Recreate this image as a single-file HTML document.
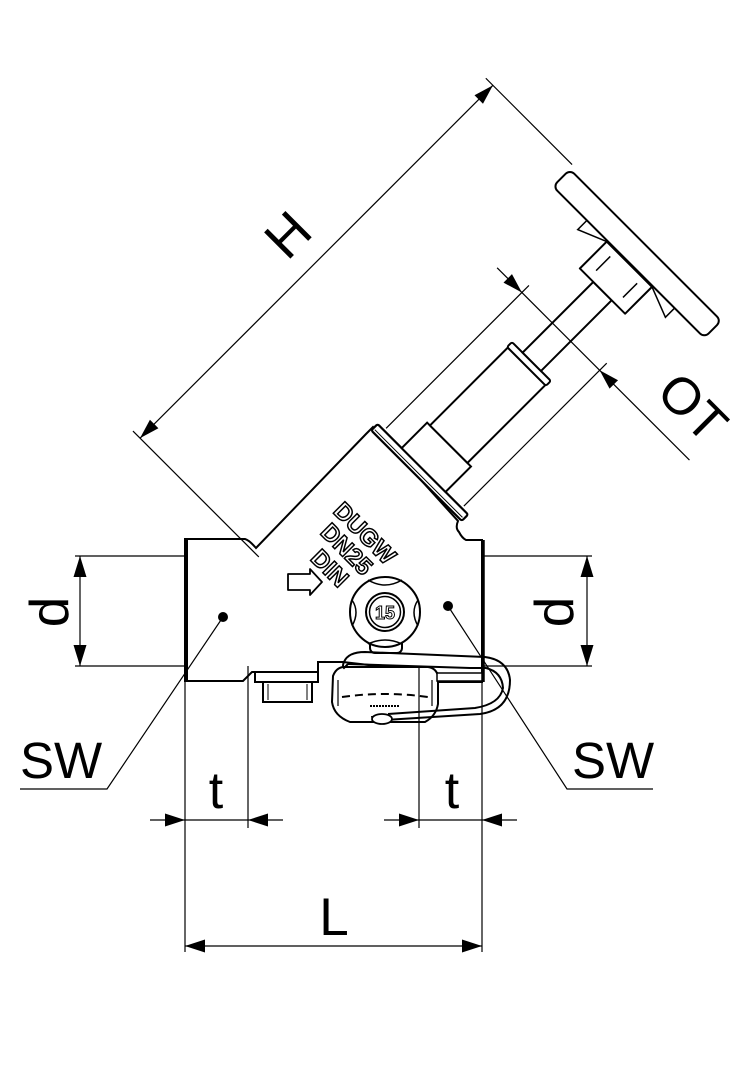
<!DOCTYPE html>
<html><head><meta charset="utf-8"><style>
html,body{margin:0;padding:0;background:#fff;}
svg{display:block;}
text{font-family:"Liberation Sans",sans-serif;}
</style></head><body>
<svg width="756" height="1080" viewBox="0 0 756 1080" xmlns="http://www.w3.org/2000/svg">
<rect width="756" height="1080" fill="#fff"/>

<!-- body -->
<path d="M185,539 L245,539 Q249,540 256,548 L366,434 Q370,430 373,427 L458,521 Q455,528 459,532 Q462,538 466,540 L482,540 L482,682 L437,682 L437,673 L343,662 L318,662 L318,672 L252,672 L243,681 L185,681 Z" fill="#fff" stroke="#000" stroke-width="2"/>
<line x1="186" y1="539" x2="186" y2="681" stroke="#000" stroke-width="4"/>
<line x1="483" y1="540" x2="483" y2="682" stroke="#000" stroke-width="3.5"/>

<!-- plug -->
<rect x="255" y="672" width="63" height="10" fill="#fff" stroke="#000" stroke-width="2"/>
<rect x="263" y="682" width="49" height="20" fill="#fff" stroke="#000" stroke-width="2"/>
<line x1="268" y1="684" x2="268" y2="700" stroke="#000" stroke-width="1"/>
<line x1="307" y1="684" x2="307" y2="700" stroke="#000" stroke-width="1"/>

<!-- bonnet group -->
<g transform="translate(425,470) rotate(-45)" stroke="#000" fill="#fff">
  <rect x="-10" y="-66" width="9" height="128" rx="2" stroke-width="2.2"/>
  <line x1="-7" y1="-64" x2="-7" y2="60" stroke-width="1"/>
  <rect x="-1" y="-32" width="36" height="62" stroke-width="2"/>
  <rect x="35" y="-28" width="111" height="53" stroke-width="2"/>
  <rect x="145" y="-29" width="7" height="55" rx="2" stroke-width="2"/>
  <rect x="152" y="-14" width="100" height="26" stroke-width="2"/>
  <path d="M252,-33 L290,-33 L290,31 L252,31 Z" stroke-width="2" stroke-linejoin="round"/>
  <path d="M290,-33 L278,-62 L291,-62 M290,31 L278,62 L291,62" stroke-width="1.5" fill="none"/>
  <rect x="291" y="-110" width="24" height="214" rx="6" stroke-width="2"/>
  <line x1="262" y1="-20" x2="282" y2="-20" stroke-width="1.5"/>
  <line x1="262" y1="18" x2="282" y2="18" stroke-width="1.5"/>
  <!-- H dimension -->
  <line x1="-179" y1="-224" x2="320" y2="-224" stroke-width="1.2"/>
  <polygon points="-179,-224 -159,-230 -159,-218" fill="#000" stroke="none"/>
  <polygon points="320,-224 300,-230 300,-218" fill="#000" stroke="none"/>
  <line x1="320" y1="-234" x2="320" y2="-112" stroke-width="1.2"/>
  <line x1="-179" y1="-234" x2="-179" y2="-56" stroke-width="1.2"/>
  <!-- OT dimension -->
  <line x1="2" y1="-57" x2="204" y2="-57" stroke-width="1.2"/>
  <line x1="2" y1="53" x2="204" y2="53" stroke-width="1.2"/>
  <line x1="194" y1="-92" x2="194" y2="180" stroke-width="1.2"/>
  <polygon points="194,-57 188,-77 200,-77" fill="#000" stroke="none"/>
  <polygon points="194,53 188,73 200,73" fill="#000" stroke="none"/>
</g>

<text x="301" y="248" font-size="54" text-anchor="middle" transform="rotate(-45 301 248)">H</text>
<text x="680" y="420" font-size="52" text-anchor="middle" transform="rotate(45 680 420)">OT</text>

<!-- body markings -->
<g font-size="24" font-weight="bold" fill="#fff" stroke="#000" stroke-width="1.5" text-anchor="middle">
<text x="359" y="539" transform="rotate(45 359 539)">DUGW</text>
<text x="341" y="555" transform="rotate(45 341 555)">DN25</text>
<text x="324" y="574" transform="rotate(45 324 574)">DIN</text>
</g>
<path d="M288,574 L310,574 L310,569 L322,582 L310,595 L310,590 L288,590 Z" fill="#fff" stroke="#000" stroke-width="1.8" stroke-linejoin="round"/>

<!-- knob -->
<rect x="370" y="638" width="32" height="15" rx="5" fill="#fff" stroke="#000" stroke-width="2"/>
<circle cx="385" cy="612" r="35" fill="#fff" stroke="#000" stroke-width="2"/>
<path d="M368,580 Q385,590 402,580 M418,600 Q410,612 418,626 M352,600 Q360,612 352,626 M368,644 Q385,636 402,644" fill="none" stroke="#000" stroke-width="1.5"/>
<circle cx="385" cy="612" r="19" fill="#fff" stroke="#000" stroke-width="2"/>
<circle cx="385" cy="612" r="15.5" fill="none" stroke="#000" stroke-width="1.5"/>
<text x="385" y="619" font-size="18" font-weight="bold" text-anchor="middle" fill="#fff" stroke="#000" stroke-width="1">15</text>

<!-- cap + strap -->
<path d="M343,667 Q336,668 333,676 L332,702 Q334,716 350,722 L425,722 Q436,716 438,704 L438,676 Q436,668 428,667 Z" fill="#fff" stroke="#000" stroke-width="2"/>
<path d="M338,680 L338,706 M432,680 L432,706" stroke="#000" stroke-width="1.2"/>
<path d="M342,697 Q385,691 428,697" fill="none" stroke="#000" stroke-width="2" stroke-dasharray="8,5"/>
<path d="M370,706 L400,706" stroke="#000" stroke-width="2" stroke-dasharray="2,1"/>
<rect x="437" y="673" width="45" height="8" fill="#fff" stroke="#000" stroke-width="1.5"/>
<path d="M344,662 Q348,652 365,652 L485,657 Q508,660 510,680 Q510,710 480,714 L385,720 Q372,722 372,716 M348,664 L470,668 L486,668 Q502,672 503,688 Q500,704 475,708 L388,714" fill="none" stroke="#000" stroke-width="2"/>
<path d="M344,662 Q342,666 344,668 L348,664" fill="none" stroke="#000" stroke-width="2"/>
<ellipse cx="382" cy="719" rx="10" ry="5" fill="#fff" stroke="#000" stroke-width="1.8"/>

<!-- d left -->
<line x1="75" y1="556" x2="185" y2="556" stroke="#000" stroke-width="1.2"/>
<line x1="75" y1="666" x2="185" y2="666" stroke="#000" stroke-width="1.2"/>
<line x1="80" y1="556" x2="80" y2="666" stroke="#000" stroke-width="1.2"/>
<polygon points="80,556 73.5,577 86.5,577" fill="#000"/>
<polygon points="80,666 73.5,645 86.5,645" fill="#000"/>
<text x="68" y="612" font-size="55" text-anchor="middle" transform="rotate(-90 68 612)">d</text>

<!-- d right -->
<line x1="482" y1="556" x2="592" y2="556" stroke="#000" stroke-width="1.2"/>
<line x1="482" y1="666" x2="592" y2="666" stroke="#000" stroke-width="1.2"/>
<line x1="587" y1="556" x2="587" y2="666" stroke="#000" stroke-width="1.2"/>
<polygon points="587,556 580.5,577 593.5,577" fill="#000"/>
<polygon points="587,666 580.5,645 593.5,645" fill="#000"/>
<text x="573" y="612" font-size="55" text-anchor="middle" transform="rotate(-90 573 612)">d</text>

<!-- SW -->
<circle cx="223" cy="617" r="5" fill="#000"/>
<polyline points="20,789 107,789 223,617" fill="none" stroke="#000" stroke-width="1.2"/>
<text x="20" y="778" font-size="51">SW</text>
<circle cx="448" cy="606" r="5" fill="#000"/>
<polyline points="653,789 567,789 448,606" fill="none" stroke="#000" stroke-width="1.2"/>
<text x="572" y="778" font-size="51">SW</text>

<!-- t left -->
<line x1="185" y1="681" x2="185" y2="952" stroke="#000" stroke-width="1.2"/>
<line x1="248" y1="666" x2="248" y2="828" stroke="#000" stroke-width="1.2"/>
<line x1="150" y1="820" x2="283" y2="820" stroke="#000" stroke-width="1.2"/>
<polygon points="185,820 165,813.5 165,826.5" fill="#000"/>
<polygon points="248,820 268,813.5 268,826.5" fill="#000"/>
<text x="216" y="808" font-size="52" text-anchor="middle">t</text>

<!-- t right -->
<line x1="482" y1="682" x2="482" y2="952" stroke="#000" stroke-width="1.2"/>
<line x1="419" y1="667" x2="419" y2="828" stroke="#000" stroke-width="1.2"/>
<line x1="384" y1="820" x2="517" y2="820" stroke="#000" stroke-width="1.2"/>
<polygon points="419,820 399,813.5 399,826.5" fill="#000"/>
<polygon points="482,820 502,813.5 502,826.5" fill="#000"/>
<text x="452" y="808" font-size="52" text-anchor="middle">t</text>

<!-- L -->
<line x1="185" y1="946" x2="482" y2="946" stroke="#000" stroke-width="1.2"/>
<polygon points="185,946 205,939.5 205,952.5" fill="#000"/>
<polygon points="482,946 462,939.5 462,952.5" fill="#000"/>
<text x="334" y="935" font-size="53" text-anchor="middle">L</text>
</svg>
</body></html>
